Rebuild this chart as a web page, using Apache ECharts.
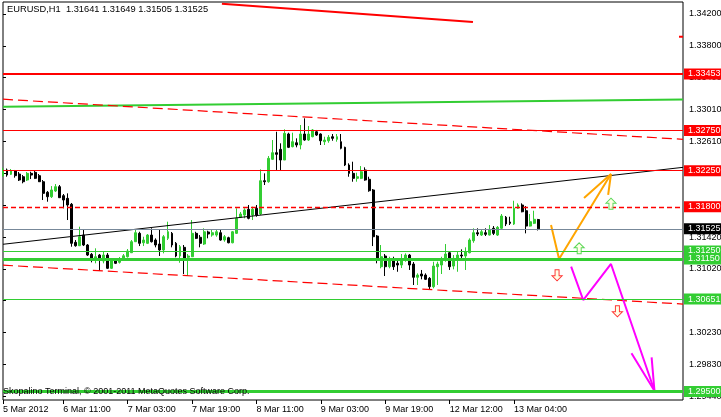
<!DOCTYPE html>
<html><head><meta charset="utf-8">
<script src="https://cdn.jsdelivr.net/npm/echarts@6/dist/echarts.min.js"></script>
<style>html,body{margin:0;padding:0;background:#fff;overflow:hidden}#c{width:721px;height:417px}</style>
</head><body><div id="c"></div>
<script>
// ---- Candle data (EURUSD H1) ----
const opens=[1.32187,1.32258,1.32204,1.32245,1.32208,1.32174,1.32133,1.32216,1.32229,1.32187,
1.32112,1.31980,1.31925,1.31996,1.32050,1.31938,1.31905,1.31831,1.31357,1.31315,
1.31448,1.31324,1.31208,1.31137,1.31199,1.31125,1.31199,1.31034,1.31133,1.31108,
1.31137,1.31178,1.31228,1.31365,1.31469,1.31352,1.31345,1.31448,1.31386,1.31336,
1.31262,1.31407,1.31469,1.31345,1.31187,1.31295,1.31171,1.31178,1.31469,1.31420,
1.31336,1.31486,1.31448,1.31448,1.31477,1.31386,1.31415,1.31352,1.31469,1.31669,
1.31697,1.31768,1.31697,1.31781,1.31710,1.32124,1.32112,1.32391,1.32473,1.32515,
1.32382,1.32706,1.32548,1.32597,1.32569,1.32706,1.32631,1.32672,1.32734,1.32706,
1.32610,1.32622,1.32672,1.32640,1.32610,1.32540,1.32320,1.32216,1.32154,1.32154,
1.32258,1.32142,1.32009,1.31436,1.31054,1.31187,1.31054,1.31128,1.31096,1.31075,
1.31137,1.31199,1.31087,1.30922,1.30963,1.30950,1.30909,1.30805,1.31054,1.31075,
1.31137,1.31228,1.31062,1.31137,1.31199,1.31187,1.31228,1.31377,1.31477,1.31448,
1.31477,1.31448,1.31532,1.31448,1.31532,1.31669,1.31610,1.31585,1.31781,1.31822,
1.31751,1.31560,1.31594,1.31641];
const closes=[1.32258,1.32195,1.32245,1.32187,1.32133,1.32112,1.32216,1.32195,1.32154,1.32112,
1.31967,1.31925,1.32009,1.32050,1.31913,1.31884,1.31822,1.31345,1.31315,1.31427,
1.31324,1.31199,1.31158,1.31178,1.31137,1.31199,1.31034,1.31125,1.31096,1.31149,
1.31190,1.31249,1.31365,1.31477,1.31345,1.31386,1.31448,1.31365,1.31324,1.31262,
1.31427,1.31489,1.31324,1.31187,1.31303,1.31146,1.31187,1.31469,1.31407,1.31345,
1.31489,1.31461,1.31477,1.31489,1.31386,1.31427,1.31352,1.31489,1.31656,1.31710,
1.31760,1.31656,1.31768,1.31697,1.32124,1.32112,1.32403,1.32473,1.32453,1.32382,
1.32714,1.32540,1.32610,1.32569,1.32706,1.32631,1.32706,1.32756,1.32693,1.32622,
1.32631,1.32665,1.32652,1.32672,1.32528,1.32320,1.32216,1.32154,1.32174,1.32236,
1.32133,1.32000,1.31427,1.31158,1.31178,1.31054,1.31137,1.31054,1.31075,1.31149,
1.31199,1.31075,1.30922,1.30950,1.30938,1.30897,1.30805,1.31062,1.31087,1.31137,
1.31212,1.31054,1.31158,1.31199,1.31187,1.31240,1.31386,1.31477,1.31461,1.31489,
1.31457,1.31519,1.31469,1.31544,1.31685,1.31585,1.31594,1.31781,1.31822,1.31738,
1.31560,1.31614,1.31644,1.31525];
const lows=[1.32174,1.32174,1.32195,1.32162,1.32121,1.32092,1.32121,1.32145,1.32145,1.32108,
1.31884,1.31863,1.31909,1.31984,1.31909,1.31781,1.31635,1.31303,1.31303,1.31311,
1.31311,1.31187,1.31108,1.31096,1.31000,1.31096,1.31025,1.31025,1.31087,1.31093,
1.31125,1.31168,1.31224,1.31361,1.31311,1.31311,1.31336,1.31355,1.31295,1.31187,
1.31220,1.31386,1.31295,1.31171,1.31103,1.30963,1.30938,1.31174,1.31398,1.31295,
1.31324,1.31407,1.31427,1.31427,1.31377,1.31365,1.31345,1.31345,1.31461,1.31660,
1.31656,1.31644,1.31635,1.31676,1.31697,1.32071,1.32099,1.32382,1.32258,1.32249,
1.32382,1.32531,1.32540,1.32540,1.32515,1.32622,1.32619,1.32665,1.32681,1.32569,
1.32569,1.32597,1.32622,1.32610,1.32515,1.32307,1.32174,1.32112,1.32112,1.32145,
1.32124,1.31987,1.31311,1.31096,1.31034,1.30938,1.31034,1.31013,1.30991,1.31037,
1.31116,1.31013,1.30826,1.30826,1.30897,1.30888,1.30764,1.30785,1.30826,1.30963,
1.31116,1.31013,1.31021,1.30991,1.31158,1.31013,1.31220,1.31352,1.31436,1.31436,
1.31436,1.31442,1.31448,1.31436,1.31519,1.31560,1.31573,1.31573,1.31772,1.31731,
1.31469,1.31554,1.31585,1.31505];
const highs=[1.32286,1.32276,1.32270,1.32258,1.32233,1.32195,1.32233,1.32236,1.32245,1.32208,
1.32133,1.31996,1.32058,1.32083,1.32071,1.31959,1.31967,1.31847,1.31386,1.31552,
1.31511,1.31336,1.31224,1.31283,1.31212,1.31240,1.31224,1.31162,1.31149,1.31174,
1.31212,1.31274,1.31386,1.31523,1.31489,1.31427,1.31461,1.31532,1.31407,1.31511,
1.31448,1.31614,1.31486,1.31361,1.31324,1.31324,1.31212,1.31635,1.31489,1.31448,
1.31532,1.31502,1.31511,1.31519,1.31511,1.31448,1.31427,1.31498,1.31781,1.31735,
1.31781,1.31822,1.31801,1.31822,1.32266,1.32216,1.32432,1.32631,1.32734,1.32590,
1.32764,1.32722,1.32722,1.32652,1.32818,1.32901,1.32805,1.32768,1.32756,1.32714,
1.32672,1.32693,1.32706,1.32706,1.32706,1.32548,1.32341,1.32361,1.32224,1.32307,
1.32291,1.32174,1.32021,1.31448,1.31324,1.31212,1.31178,1.31178,1.31146,1.31212,
1.31220,1.31212,1.31112,1.30971,1.31013,1.30971,1.30925,1.31116,1.31116,1.31178,
1.31336,1.31249,1.31199,1.31240,1.31270,1.31295,1.31407,1.31532,1.31532,1.31519,
1.31532,1.31573,1.31560,1.31560,1.31710,1.31685,1.31676,1.31875,1.31843,1.31843,
1.31809,1.31710,1.31751,1.31649];

// ---- Axes text ----
const barSlots = 170;
const tickBars = [0,15,31,47,63,79,95,111,127];
const tickLabels = ["5 Mar 2012","6 Mar 11:00","7 Mar 03:00","7 Mar 19:00","8 Mar 11:00","9 Mar 03:00","9 Mar 19:00","12 Mar 12:00","13 Mar 04:00"];
const yTickValues = [1.29440,1.29837,1.30233,1.30630,1.31027,1.31423,1.31820,1.32217,1.32613,1.33010,1.33407,1.33803,1.34200];
const yTickLabels = ["1.29440","1.29830","1.30230","1.30630","1.31020","1.31420","1.31820","1.32210","1.32610","1.33010","1.33400","1.33800","1.34200"];
const headerText = "EURUSD,H1  1.31641 1.31649 1.31505 1.31525";
const footerText = "Skopalino Terminal, \u00A9 2001-2011 MetaQuotes Software Corp.";

// ---- Horizontal levels ----
const levelPrices = [1.33453,1.32750,1.32250,1.31800,1.31525,1.31250,1.31150,1.30651,1.29500];
const levelLabels = ["1.33453","1.32750","1.32250","1.31800","1.31525","1.31250","1.31150","1.30651","1.29500"];

// ---- Drawn objects (x = bar index, y = price) ----
const redTopLine   = [[54.4,1.34328],[116.8,1.34100]];
const redEdgeTick  = [[168.0,1.33917],[169,1.33917]];
const greenTrend   = [[0,1.33046],[169,1.33136]];
const redDashUpper = [[0,1.33139],[169,1.32640]];
const blackTrend   = [[0,1.31333],[169,1.32291]];
const redDashLower = [[0,1.31073],[169,1.30589]];
const orangePath   = [[136.2,1.31573],[138.2,1.31150],[151.1,1.32208]];
const orangeHead   = [[144.4,1.31909],[151.1,1.32208],[150.4,1.31947]];
const magentaPath  = [[141.2,1.31054],[144.2,1.30639],[151.1,1.31088],[161.9,1.29510]];
const magentaHead  = [[156.2,1.29976],[161.9,1.29510],[161.2,1.29926]];
const upArrows     = [[151.1,1.31838],[143.2,1.31283]];
const downArrows   = [[137.7,1.30947],[152.7,1.30499]];

// ---- styles ----
const FONT = "Liberation Sans";
const RED = "#FF0000", GREEN = "#32CD32";
const levelStyle = [
  {c:RED,w:2,t:"solid",bg:RED},
  {c:RED,w:1,t:"solid",bg:RED},
  {c:RED,w:1,t:"solid",bg:RED},
  {c:RED,w:1.3,t:[5,3],bg:RED},
  {c:"#778899",w:1,t:"solid",bg:"#000"},
  {c:GREEN,w:1,t:"solid",bg:GREEN},
  {c:GREEN,w:3,t:"solid",bg:GREEN},
  {c:GREEN,w:1,t:"solid",bg:GREEN},
  {c:GREEN,w:3,t:"solid",bg:GREEN}
];

const cats = Array.from({length: barSlots}, (_, i) => String(i));
const candleData = opens.map((o, i) => [o, closes[i], lows[i], highs[i]]);

function lineSeries(data, color, width, type) {
  return {type:'line', xAxisIndex:1, yAxisIndex:0, data, showSymbol:false, symbol:'none',
    lineStyle:{color, width, type: type || 'solid'}, clip:true, z:4, silent:true};
}

const chart = echarts.init(document.getElementById('c'), null, {renderer:'canvas'});
chart.setOption({
  animation:false,
  backgroundColor:'#fff',
  textStyle:{fontFamily:FONT},
  title:[
    {text:headerText, left:7, top:5, padding:0, textStyle:{fontSize:9.3, fontWeight:'normal', color:'#000', fontFamily:FONT}},
    {text:footerText, left:3, top:387, padding:0, textStyle:{fontSize:9, fontWeight:'normal', color:'#000', fontFamily:FONT}}
  ],
  grid:{left:3, right:38, top:2, bottom:17, show:true, borderColor:'#000', borderWidth:1, backgroundColor:'#fff',
        containLabel:false, outerBoundsMode:'none'},
  xAxis:[
    {type:'category', data:cats, boundaryGap:false,
     axisLine:{show:false},
     axisTick:{show:true, length:4, interval:(i)=>tickBars.indexOf(i)>=0, lineStyle:{color:'#000'}},
     axisLabel:{interval:(i)=>tickBars.indexOf(i)>=0, align:'left', margin:5, fontSize:9, color:'#000', fontFamily:FONT,
       formatter:(v, i)=>{const k=tickBars.indexOf(Number(v)); return k>=0?tickLabels[k]:'';}},
     splitLine:{show:false}},
    {type:'value', min:0, max:barSlots-1, show:false, splitLine:{show:false}}
  ],
  yAxis:[{type:'value', position:'right', min:1.293943, max:1.343494, scale:true,
     axisLine:{show:false},
     axisTick:{show:true, length:3, customValues:yTickValues, lineStyle:{color:'#000'}},
     axisLabel:{customValues:yTickValues, margin:6, fontSize:9, color:'#000', fontFamily:FONT,
       formatter:(v)=>{let best=0;for(let k=1;k<yTickValues.length;k++){if(Math.abs(yTickValues[k]-v)<Math.abs(yTickValues[best]-v))best=k;}return yTickLabels[best];}},
     splitLine:{show:false}}],
  series:[
    {type:'candlestick', xAxisIndex:0, yAxisIndex:0, data:candleData, barWidth:2.4, z:2,
     itemStyle:{color:GREEN, color0:'#000', borderColor:GREEN, borderColor0:'#000', borderWidth:1}},
    lineSeries(redTopLine, RED, 2),
    lineSeries(redEdgeTick, RED, 2),
    lineSeries(greenTrend, GREEN, 2),
    lineSeries(redDashUpper, RED, 1.2, [10,5]),
    lineSeries(blackTrend, '#000', 1),
    lineSeries(redDashLower, RED, 1.2, [10,5]),
    lineSeries(orangePath, '#FFA500', 2),
    lineSeries(orangeHead, '#FFA500', 2),
    lineSeries(magentaPath, '#FF00FF', 2),
    lineSeries(magentaHead, '#FF00FF', 2),
    {type:'line', xAxisIndex:1, yAxisIndex:0, data:[], z:5, silent:true,
     markLine:{silent:true, symbol:['none','none'], animation:false, precision:5,
       data: levelPrices.map((p, k) => ({yAxis:p,
         lineStyle:{color:levelStyle[k].c, width:levelStyle[k].w, type:levelStyle[k].t},
         label:{show:true, position:'end', distance:1, formatter:levelLabels[k], color:'#fff',
           backgroundColor:levelStyle[k].bg, padding:[1,6,1,4], fontSize:9, fontFamily:FONT}}))}},
    {type:'scatter', xAxisIndex:1, yAxisIndex:0, data:upArrows, z:6, silent:true,
     symbol:'path://M5,0 L10,5 L7,5 L7,11 L3,11 L3,5 L0,5 Z', symbolSize:[10,11],
     itemStyle:{color:'#FFFFE0', borderColor:GREEN, borderWidth:1}},
    {type:'scatter', xAxisIndex:1, yAxisIndex:0, data:downArrows, z:6, silent:true,
     symbol:'path://M3,0 L7,0 L7,6 L10,6 L5,11 L0,6 L3,6 Z', symbolSize:[10,11],
     itemStyle:{color:'#FFFFE0', borderColor:RED, borderWidth:1}}
  ]
});
</script></body></html>
